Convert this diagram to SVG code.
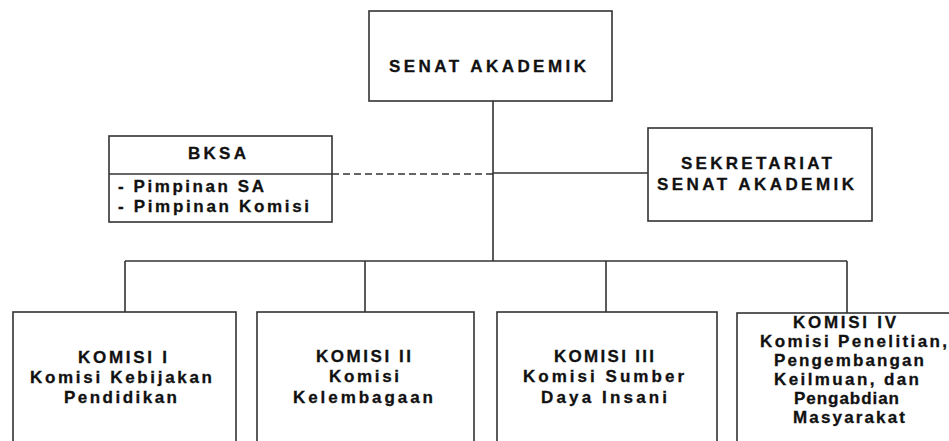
<svg xmlns="http://www.w3.org/2000/svg" width="949" height="441" viewBox="0 0 949 441">
<style>
.box{fill:#fff;stroke:#333;stroke-width:1.6}
.ln{fill:none;stroke:#333;stroke-width:1.6}
.dash{fill:none;stroke:#333;stroke-width:1.6;stroke-dasharray:7 4}
text{font-family:"Liberation Sans",Arial,sans-serif;font-weight:bold;font-size:17px;fill:#111;stroke:#111;stroke-width:0.3}
</style>
<rect width="949" height="441" fill="#fff"/>
<g id="connectors">
<path class="ln" d="M493 101V261M125 261H847M125 261V312M365 261V312M606 261V312M847 261V313M493 173H648"/>
<path class="dash" d="M332 174H493"/>
</g>
<g id="senat">
<rect class="box" x="369" y="11" width="243" height="90"/>
<text x="389" y="72" textLength="197" lengthAdjust="spacing">SENAT AKADEMIK</text>
</g>
<g id="bksa">
<rect class="box" x="109" y="136" width="223" height="86"/>
<path class="ln" d="M109 174H332"/>
<text x="188" y="159" textLength="58" lengthAdjust="spacing">BKSA</text>
<text x="118" y="192" textLength="146" lengthAdjust="spacing">- Pimpinan SA</text>
<text x="118" y="212" textLength="191" lengthAdjust="spacing">- Pimpinan Komisi</text>
</g>
<g id="sekretariat">
<rect class="box" x="648" y="128" width="224" height="93"/>
<text x="681" y="169" textLength="151" lengthAdjust="spacing">SEKRETARIAT</text>
<text x="657" y="190" textLength="197" lengthAdjust="spacing">SENAT AKADEMIK</text>
</g>
<g id="komisi1">
<rect class="box" x="13" y="312" width="223" height="150"/>
<text x="78" y="363" textLength="89" lengthAdjust="spacing">KOMISI I</text>
<text x="30" y="383" textLength="182" lengthAdjust="spacing">Komisi Kebijakan</text>
<text x="64" y="403" textLength="113" lengthAdjust="spacing">Pendidikan</text>
</g>
<g id="komisi2">
<rect class="box" x="257" y="312" width="217" height="150"/>
<text x="316" y="362" textLength="95" lengthAdjust="spacing">KOMISI II</text>
<text x="329" y="382" textLength="70" lengthAdjust="spacing">Komisi</text>
<text x="293" y="403" textLength="140" lengthAdjust="spacing">Kelembagaan</text>
</g>
<g id="komisi3">
<rect class="box" x="497" y="312" width="220" height="150"/>
<text x="554" y="362" textLength="100" lengthAdjust="spacing">KOMISI III</text>
<text x="523" y="382" textLength="161" lengthAdjust="spacing">Komisi Sumber</text>
<text x="541" y="403" textLength="126" lengthAdjust="spacing">Daya Insani</text>
</g>
<g id="komisi4">
<rect class="box" x="737" y="313" width="220" height="150"/>
<text x="793" y="328" textLength="103" lengthAdjust="spacing">KOMISI IV</text>
<text x="760" y="347" textLength="187" lengthAdjust="spacing">Komisi Penelitian,</text>
<text x="774" y="366" textLength="150" lengthAdjust="spacing">Pengembangan</text>
<text x="774" y="385" textLength="145" lengthAdjust="spacing">Keilmuan, dan</text>
<text x="794" y="404" textLength="105" lengthAdjust="spacing">Pengabdian</text>
<text x="793" y="423" textLength="112" lengthAdjust="spacing">Masyarakat</text>
</g>
</svg>
